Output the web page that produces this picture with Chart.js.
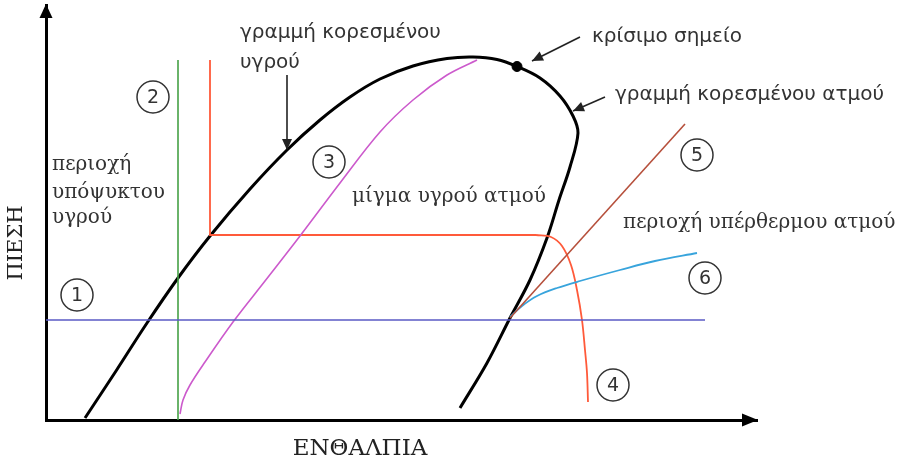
<!DOCTYPE html>
<html>
<head>
<meta charset="utf-8">
<script src="https://cdn.jsdelivr.net/npm/chart.js@4.4.1/dist/chart.umd.min.js"></script>
<style>
  html, body { margin: 0; padding: 0; background: #fff; }
  #wrap { width: 903px; height: 460px; }
</style>
</head>
<body>
<div id="wrap"><canvas id="ph-chart"></canvas></div>
<script>
// ---- pressure / enthalpy sketch, arbitrary units ----
const hMax = 711;   // enthalpy axis length
const pMax = 415;   // pressure axis length

// saturation dome (liquid line -> critical point -> vapour line)
const domeH = [39, 70, 101, 132, 164, 204, 241, 274, 304, 334, 367, 401, 427, 451, 471, 494, 514, 527, 532, 524, 513, 501, 484, 464, 441, 414];
const domeP = [2, 49, 97, 142, 184, 231, 270, 300, 323, 341, 354, 361.5, 363, 360.5, 353.5, 342, 324, 304, 287, 253, 220, 182, 140, 102, 57, 12];
const criticalH = [471];
const criticalP = [353.5];

// (2) constant enthalpy, subcooled liquid
const greenH = [132, 132];
const greenP = [0, 360];

// (4) isotherm: vertical, flat across the dome, then down in vapour region
const isoH = [164, 164, 490];
const isoP = [360, 185, 185];
const isoTailH = [490, 505, 516, 525, 531, 536, 539, 541, 542];
const isoTailP = [185, 183, 174, 155, 130, 100, 70, 47, 18];

// (3) constant quality line
const qualH = [134, 137, 144, 159, 187, 219, 254, 294, 334, 367, 401, 431];
const qualP = [6, 20, 35, 58, 98, 139, 184, 237, 288, 320, 345, 360];

// (1) constant pressure
const isobarH = [0, 659];
const isobarP = [100, 100];

// (5) constant entropy
const entH = [464, 639];
const entP = [102, 296];

// (6) constant volume
const volH = [464, 476, 491, 511, 534, 574, 609, 651];
const volP = [103, 114, 124, 132, 139, 150, 159, 167];

// pointer arrows [fromH, fromP, toH, toP]
const pointerLiquid = [241, 345, 241, 270];
const pointerCrit   = [534, 383, 486, 359];
const pointerVapour = [559, 323, 527, 309];

// circled region numbers
const regionNo = ['1', '2', '3', '4', '5', '6'];
const regionH  = [31, 107, 283, 567, 651, 659];
const regionP  = [125, 323, 258, 35, 265, 142];

// text notes: text, h, p (left/baseline), font kind
const noteText = [
  'γραμμή κορεσμένου', 'υγρού',
  'περιοχή', 'υπόψυκτου', 'υγρού',
  'μίγμα υγρού ατμού',
  'κρίσιμο σημείο',
  'γραμμή κορεσμένου ατμού',
  'περιοχή υπέρθερμου ατμού'
];
const noteH = [194, 194, 6, 6, 6, 306, 546, 569, 577];
const noteP = [382, 352, 250, 222, 197, 218, 378, 320, 192];
const noteKind = ['sans', 'sans', 'serif', 'serif', 'serif', 'serif', 'sans', 'sans', 'serif'];

const xTitle = 'ΕΝΘΑΛΠΙΑ';
const yTitle = 'ΠΙΕΣΗ';

const SANS = '"DejaVu Sans", Verdana, sans-serif';
const SERIF = '"DejaVu Serif", "Liberation Serif", serif';

function pts(xs, ys) {
  return xs.map((x, i) => ({ x, y: ys[i] }));
}

function lineSet(xs, ys, color, width, tension) {
  return {
    data: pts(xs, ys),
    showLine: true,
    borderColor: color,
    borderWidth: width,
    pointRadius: 0,
    tension: tension || 0,
    clip: false,
  };
}

function pointerSet(a) {
  const ds = lineSet([a[0], a[2]], [a[1], a[3]], '#222', 1.6, 0);
  ds.arrow = true;
  return ds;
}

function drawHead(ctx, x0, y0, x1, y1, len, half, color) {
  const ang = Math.atan2(y1 - y0, x1 - x0);
  ctx.save();
  ctx.translate(x1, y1);
  ctx.rotate(ang);
  ctx.fillStyle = color;
  ctx.beginPath();
  ctx.moveTo(0, 0);
  ctx.lineTo(-len, -half);
  ctx.lineTo(-len, half);
  ctx.closePath();
  ctx.fill();
  ctx.restore();
}

const sketchNotes = {
  id: 'sketchNotes',
  afterDatasetsDraw(chart) {
    const { ctx, chartArea: a, scales: { x, y } } = chart;

    // axis arrow heads
    drawHead(ctx, a.left, a.bottom, a.left, a.top - 1, 14, 6.5, '#000');
    drawHead(ctx, a.left, a.bottom, a.right + 1, a.bottom, 16, 6.5, '#000');

    // pointer arrow heads
    chart.data.datasets.forEach(ds => {
      if (!ds.arrow) return;
      const p0 = ds.data[0], p1 = ds.data[1];
      drawHead(ctx, x.getPixelForValue(p0.x), y.getPixelForValue(p0.y),
        x.getPixelForValue(p1.x), y.getPixelForValue(p1.y), 11, 5, '#222');
    });

    ctx.save();
    ctx.fillStyle = '#333';

    // digits in circles
    ctx.font = '19px ' + SANS;
    ctx.textAlign = 'center';
    ctx.textBaseline = 'middle';
    regionNo.forEach((n, i) => {
      ctx.fillText(n, x.getPixelForValue(regionH[i]), y.getPixelForValue(regionP[i]) + 1);
    });

    // notes
    ctx.textAlign = 'left';
    ctx.textBaseline = 'alphabetic';
    noteText.forEach((t, i) => {
      ctx.font = '20px ' + (noteKind[i] === 'sans' ? SANS : SERIF);
      ctx.fillText(t, x.getPixelForValue(noteH[i]), y.getPixelForValue(noteP[i]));
    });

    // axis titles
    ctx.fillStyle = '#222';
    ctx.textAlign = 'center';
    ctx.font = '23px ' + SERIF;
    ctx.fillText(xTitle, x.getPixelForValue(314), a.bottom + 35);
    ctx.font = '21px ' + SERIF;
    ctx.save();
    ctx.translate(a.left - 29, y.getPixelForValue(177));
    ctx.rotate(-Math.PI / 2);
    ctx.textBaseline = 'middle';
    ctx.fillText(yTitle, 0, 0);
    ctx.restore();

    ctx.restore();
  }
};

const datasets = [
  lineSet(isobarH, isobarP, '#5a5ac4', 1.6),
  lineSet(greenH, greenP, '#45a045', 1.6),
  lineSet(qualH, qualP, '#cc5acc', 1.6, 0.35),
  lineSet(entH, entP, '#b6503c', 1.6),
  lineSet(volH, volP, '#38a4dc', 1.8, 0.35),
  lineSet(isoH, isoP, '#ff5a3a', 1.8),
  lineSet(isoTailH, isoTailP, '#ff5a3a', 1.8, 0.35),
  lineSet(domeH, domeP, '#000', 3, 0.35),
  {
    data: pts(criticalH, criticalP),
    pointRadius: 5,
    pointBackgroundColor: '#000',
    pointBorderColor: '#000',
    clip: false,
  },
  pointerSet(pointerLiquid),
  pointerSet(pointerCrit),
  pointerSet(pointerVapour),
  {
    data: pts(regionH, regionP),
    pointRadius: 16,
    pointBackgroundColor: 'rgba(255,255,255,0)',
    pointBorderColor: '#333',
    pointBorderWidth: 1.5,
    clip: false,
  },
];

new Chart(document.getElementById('ph-chart'), {
  type: 'scatter',
  data: { datasets },
  options: {
    responsive: true,
    maintainAspectRatio: false,
    animation: false,
    events: [],
    layout: { autoPadding: false, padding: { left: 46, right: 146, top: 5, bottom: 40 } },
    plugins: { legend: { display: false }, tooltip: { enabled: false } },
    scales: {
      x: {
        type: 'linear', min: 0, max: hMax,
        ticks: { display: false },
        grid: { display: false, drawTicks: false },
        border: { color: '#000', width: 3 },
      },
      y: {
        type: 'linear', min: 0, max: pMax,
        ticks: { display: false },
        grid: { display: false, drawTicks: false },
        border: { color: '#000', width: 3 },
      }
    }
  },
  plugins: [sketchNotes]
});
</script>
</body>
</html>
